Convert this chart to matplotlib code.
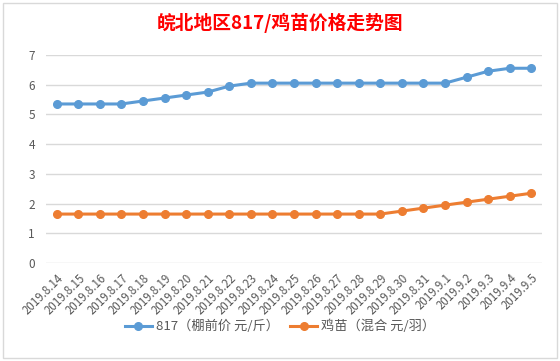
import matplotlib
matplotlib.use("Agg")
import matplotlib.pyplot as plt
from matplotlib.patches import Rectangle

plt.rcParams['font.family'] = ['Noto Sans CJK SC', 'DejaVu Sans']

# data
dates = ["2019.8.14", "2019.8.15", "2019.8.16", "2019.8.17", "2019.8.18", "2019.8.19",
         "2019.8.20", "2019.8.21", "2019.8.22", "2019.8.23", "2019.8.24", "2019.8.25",
         "2019.8.26", "2019.8.27", "2019.8.28", "2019.8.29", "2019.8.30", "2019.8.31",
         "2019.9.1", "2019.9.2", "2019.9.3", "2019.9.4", "2019.9.5"]
price_817 = [5.35, 5.35, 5.35, 5.35, 5.45, 5.55, 5.65, 5.75, 5.95, 6.05, 6.05, 6.05,
             6.05, 6.05, 6.05, 6.05, 6.05, 6.05, 6.05, 6.25, 6.45, 6.55, 6.55]
price_chick = [1.65, 1.65, 1.65, 1.65, 1.65, 1.65, 1.65, 1.65, 1.65, 1.65, 1.65, 1.65,
               1.65, 1.65, 1.65, 1.65, 1.75, 1.85, 1.95, 2.05, 2.15, 2.25, 2.35]
label_817 = "817（棚前价 元/斤）"
label_chick = "鸡苗（混合 元/羽）"

fig = plt.figure(figsize=(5.6, 3.61), dpi=100)
ax = fig.add_axes([0.082, 0.271, 0.886, 0.577])

x = range(len(dates))
ax.plot(x, price_817, "-o", color="#5B9BD5", lw=2.2, markersize=5.5, label=label_817)
ax.plot(x, price_chick, "-o", color="#ED7D31", lw=2.2, markersize=5.5, label=label_chick)

ax.set_xlim(-0.5, len(dates) - 0.5)
ax.set_ylim(0, 7)
ax.set_yticks(range(8))
ax.set_xticks(list(x))
ax.set_xticklabels(dates, rotation=45, ha="right", rotation_mode="anchor", fontsize=8.3)
ax.tick_params(axis="both", length=0, colors="#595959")
ax.tick_params(axis="y", labelsize=8.5, pad=8)
ax.tick_params(axis="x", pad=6)
ax.yaxis.grid(color="#D9D9D9", linewidth=1)
ax.set_axisbelow(True)
for s in ax.spines.values():
    s.set_visible(False)

fig.text(0.5, 0.935, "皖北地区817/鸡苗价格走势图", color="red", fontsize=13.5,
         fontweight="bold", ha="center", va="center")

fig.legend(loc="center", bbox_to_anchor=(0.5, 0.095), ncol=2, frameon=False,
           fontsize=9.5, labelcolor="#595959", handlelength=2.0, handletextpad=0.3,
           columnspacing=0.9)

# chart border
fig.patches.append(Rectangle((0.006, 0.008), 0.988, 0.984, transform=fig.transFigure,
                             fill=False, edgecolor="#D9D9D9", linewidth=1))

fig.savefig("out.png", dpi=100)
